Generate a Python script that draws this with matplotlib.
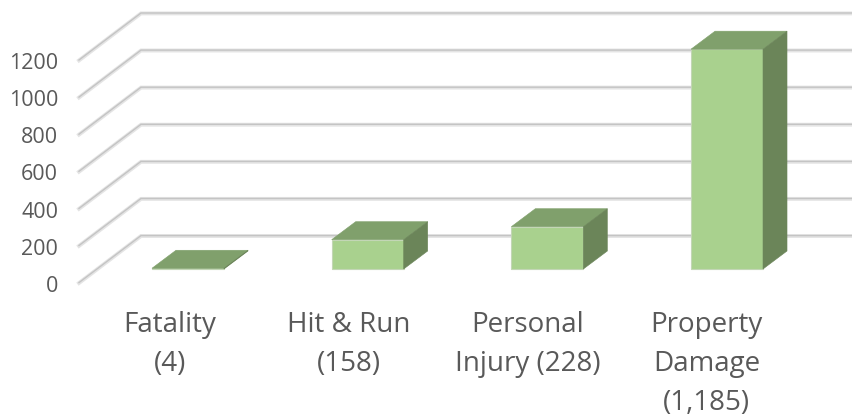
"""3D-look column chart of incident counts, drawn with flat polygons."""

import matplotlib
matplotlib.use("Agg")
import matplotlib.pyplot as plt
from matplotlib.patches import Polygon

plt.rcParams["font.family"] = ["Open Sans", "DejaVu Sans"]

CATEGORIES = ["Fatality\n(4)", "Hit & Run\n(158)", "Personal\nInjury (228)",
              "Property\nDamage\n(1,185)"]
VALUES = [4, 158, 228, 1185]
Y_TICKS = [0, 200, 400, 600, 800, 1000, 1200]
Y_LABELS = ["0", "200", "400", "600", "800", "1000", "1200"]

W, H = 852, 416
PX_X = 179.67  # pixels per category
PX_Y = 0.1855  # pixels per count
X0_PX, Y0_PX = 188, 283  # first bar centre, front zero line


def dx(px):
    return px / PX_X


def dy(px):
    return px / PX_Y


fig = plt.figure(figsize=(W / 100, H / 100), dpi=100, facecolor="white")
ax = fig.add_axes([0, 0, 1, 1])
ax.set_xlim(-X0_PX / PX_X, (W - X0_PX) / PX_X)
ax.set_ylim((Y0_PX - H) / PX_Y, Y0_PX / PX_Y)
ax.axis("off")

# floor lines running back from the front edge, then across the back wall
x_front = dx(79 - X0_PX)
x_back = dx(141 - X0_PX)
x_end = dx(W - X0_PX)
rise = dy(47)
for t in Y_TICKS:
    xs = [x_front, x_back, x_end]
    ys = [t, t + rise, t + rise]
    ax.plot(xs, ys, color="#e4e4e4", lw=2.8, solid_joinstyle="miter", zorder=1)
    ax.plot(xs, [y + dy(0.4) for y in ys], color="#c4c4c4", lw=1.0,
            solid_joinstyle="miter", zorder=1.1)

# bars
half = dx(36)
base = dy(14)
depth_x = dx(24)
depth_y = dy(18)
for i, v in enumerate(VALUES):
    left = i - half
    right = i + half
    top = base + v
    ax.add_patch(Polygon([(left, base), (right, base), (right, top), (left, top)],
                         fc="#a9d18e", ec="#c3d6b6", lw=0.8, zorder=3))
    ax.add_patch(Polygon([(left, top), (right, top),
                          (right + depth_x, top + depth_y),
                          (left + depth_x, top + depth_y)],
                         fc="#80a06c", ec="#80a06c", lw=0.4, zorder=3))
    ax.add_patch(Polygon([(right, base), (right + depth_x, base + depth_y),
                          (right + depth_x, top + depth_y), (right, top)],
                         fc="#6b8559", ec="#6b8559", lw=0.4, zorder=3))

# value axis labels
for t, lab in zip(Y_TICKS, Y_LABELS):
    ax.text(dx(58 - X0_PX), t - dy(3.2), lab, ha="right", va="center", fontsize=15.5,
            color="#595959")

# category labels sit a little tighter than the bars
for i, lab in enumerate(CATEGORIES):
    ax.text(i - dx(18 + 0.8 * i), dy(Y0_PX - 311), lab, ha="center", va="top",
            fontsize=20, color="#595959", linespacing=1.53)

fig.savefig("out.png", dpi=100, facecolor="white")
plt.close(fig)
